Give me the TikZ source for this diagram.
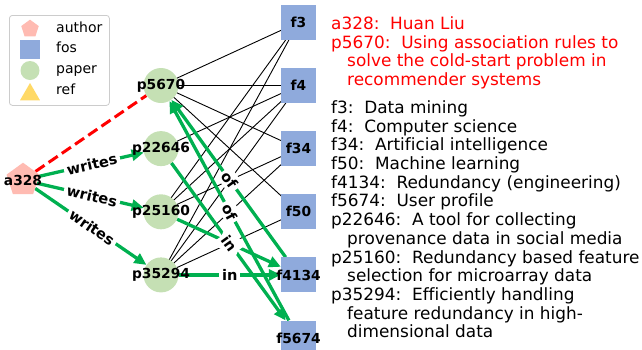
\documentclass[tikz,border=0pt]{standalone}
\usepackage{fontspec}
\setmainfont{DejaVu Sans}[Ligatures=NoCommon]
\usetikzlibrary{shapes.geometric,arrows.meta,backgrounds}
\definecolor{authorc}{RGB}{255,187,178}
\definecolor{fosc}{RGB}{143,170,220}
\definecolor{paperc}{RGB}{197,224,180}
\definecolor{refc}{RGB}{255,217,102}
\definecolor{relgreen}{RGB}{0,176,80}
\definecolor{framegray}{RGB}{204,204,204}
\begin{document}
\begin{tikzpicture}[x=1pt,y=-1pt,line join=round,
    author/.style={regular polygon,regular polygon sides=5,inner sep=0pt,fill=authorc,minimum size=34.6pt},
    fos/.style={rectangle,inner sep=0pt,fill=fosc,minimum size=35pt},
    paper/.style={circle,inner sep=0pt,fill=paperc,minimum size=35pt},
    refmark/.style={regular polygon,regular polygon sides=3,inner sep=0pt,fill=refc,minimum size=23pt},
    every label/.style={font=\fontsize{13.8}{14}\selectfont\bfseries,inner sep=0pt},
    rel/.style={draw=relgreen,line width=3.3pt,-{Triangle[length=12pt,width=11pt]}},
    has/.style={draw=black,line width=0.9pt},
    rellabel/.style={sloped,fill=white,inner sep=3pt,font=\fontsize{14.6}{15}\selectfont\bfseries},
    desc/.style={align=left,inner sep=0pt,anchor=north west,font=\fontsize{16.9}{18.7}\selectfont},
    keytxt/.style={anchor=base west,inner sep=0pt,font=\fontsize{14}{16}\selectfont}]
\useasboundingbox (0,0) rectangle (642,349);
% legend
\node[draw=framegray,line width=0.8pt,rounded corners=3pt,fill=white,minimum width=100pt,minimum height=90pt,inner sep=0pt,anchor=north west] (legend) at (9,15) {};
\foreach \st/\sz/\y/\b/\txt in {author/18.4/28.9/32.3/author,fos/19.5/49.7/52.9/fos,paper/19/70.5/73.4/paper,refmark/23/94.5/94/ref}
    \node[\st,minimum size=\sz pt] (key\txt) at (30,\y) {} (56,\b) node[keytxt] (keytxt\txt) {\txt};
% nodes
\node[author,label=center:a328] (a328) at (23,180) {};
\foreach \n/\y in {p5670/85.5,p22646/148.6,p25160/211.8,p35294/274.9}
    \node[paper,label=center:\n] (\n) at (161,\y) {};
\foreach \n/\y in {f3/22.3,f4/85.5,f34/148.6,f50/211.8,f4134/274.9,f5674/338.1}
    \node[fos,label=center:\n] (\n) at (298.5,\y) {};
% edges
\begin{scope}[on background layer]
\foreach \p/\f in {p5670/f3,p5670/f4,p5670/f34,p5670/f50,p22646/f4,p25160/f3,p25160/f4,p25160/f34,p35294/f3,p35294/f4,p35294/f34,p35294/f50}
    \draw[has] (\p.center)--(\f.center);
\draw[red,line width=3pt,line cap=butt,dash pattern=on 11pt off 5pt] (a328)--(p5670);
\foreach \s/\t in {a328/p22646,a328/p25160,a328/p35294,f4134/p5670,f5674/p5670,p25160/f4134,p22646/f5674,p35294/f4134}
    \draw[rel] (\s)--(\t);
\end{scope}
\foreach \s/\t/\r in {a328/p22646/writes,a328/p25160/writes,a328/p35294/writes,f4134/p5670/of,f5674/p5670/of,p25160/f4134/in,p22646/f5674/in,p35294/f4134/in}
    \path (\s.center)--node[rellabel] (lbl\s\t) {\r} (\t.center);
% descriptions
\node[desc,text=red] (redinfo) at (331,16.4) {a328:\ \ Huan Liu\\p5670:\ \ Using association rules to\\\hspace*{16pt}solve the cold-start problem in\\\hspace*{16pt}recommender systems};
\node[desc] (info) at (331,100.4) {f3:\ \ Data mining\\f4:\ \ Computer science\\f34:\ \ Artificial intelligence\\f50:\ \ Machine learning\\f4134:\ \ Redundancy (engineering)\\f5674:\ \ User profile\\p22646:\ \ A tool for collecting\\\hspace*{16pt}provenance data in social media\\p25160:\ \ Redundancy based feature\\\hspace*{16pt}selection for microarray data\\p35294:\ \ Efficiently handling\\\hspace*{16pt}feature redundancy in high-\\\hspace*{16pt}dimensional data};
\end{tikzpicture}
\end{document}
